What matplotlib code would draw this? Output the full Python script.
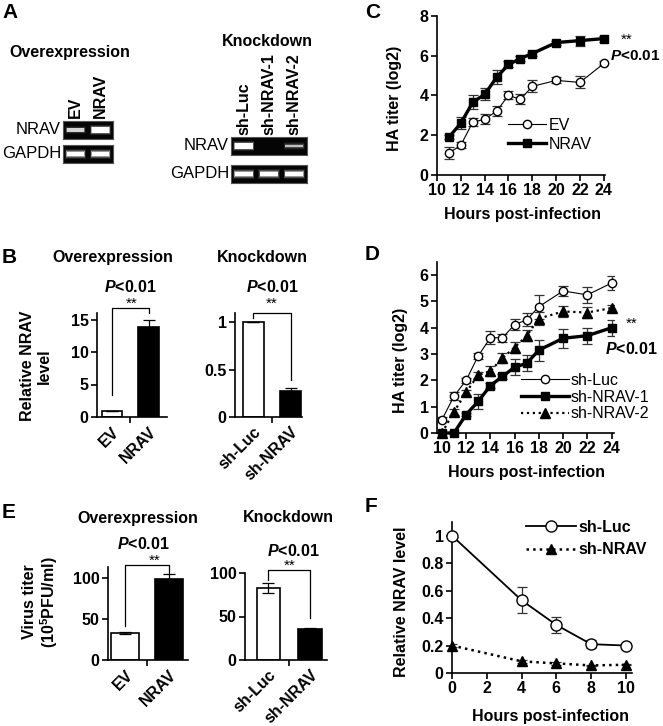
import matplotlib
matplotlib.use('Agg')
import matplotlib.pyplot as plt
import numpy as np

plt.rcParams['font.family'] = 'Liberation Sans'
plt.rcParams['font.weight'] = 'bold'
plt.rcParams['axes.labelweight'] = 'bold'
plt.rcParams['mathtext.fontset'] = 'custom'
plt.rcParams['mathtext.it'] = 'Liberation Sans:italic:bold'
plt.rcParams['mathtext.bf'] = 'Liberation Sans:bold'
plt.rcParams['mathtext.rm'] = 'Liberation Sans:bold'

W, H = 663, 726

# ---- data ----
# A: gel band intensities (0-1)
gel_oe_lanes = ['EV', 'NRAV']
gel_oe_nrav = [0.45, 1.0]
gel_oe_gapdh = [0.85, 0.85]
gel_kd_lanes = ['sh-Luc', 'sh-NRAV-1', 'sh-NRAV-2']
gel_kd_nrav = [0.9, 0.0, 0.35]
gel_kd_gapdh = [0.85, 0.85, 0.85]

# B: relative NRAV level
b_oe_labels = ['EV', 'NRAV']
b_oe_vals = [1.0, 13.9]
b_oe_err = [0.0, 1.05]
b_kd_labels = ['sh-Luc', 'sh-NRAV']
b_kd_vals = [1.0, 0.27]
b_kd_err = [0.0, 0.035]

# C: HA titer overexpression
c_hours = [11, 12, 13, 14, 15, 16, 17, 18, 20, 22, 24]
c_ev = [1.1, 1.5, 2.65, 2.8, 3.2, 4.0, 3.8, 4.45, 4.75, 4.65, 5.6]
c_ev_err = [0.3, 0.15, 0.2, 0.25, 0.25, 0.2, 0.25, 0.3, 0.15, 0.3, 0.1]
c_nrav = [1.9, 2.6, 3.65, 4.05, 4.9, 5.55, 5.85, 6.1, 6.65, 6.75, 6.85]
c_nrav_err = [0.1, 0.3, 0.35, 0.3, 0.35, 0.15, 0.15, 0.1, 0.1, 0.25, 0.15]

# D: HA titer knockdown
d_hours = [10, 11, 12, 13, 14, 15, 16, 17, 18, 20, 22, 24]
d_luc = [0.5, 1.4, 2.0, 2.93, 3.62, 3.62, 4.12, 4.3, 4.8, 5.4, 5.25, 5.7]
d_luc_err = [0.1, 0.15, 0.1, 0.1, 0.25, 0.15, 0.2, 0.25, 0.45, 0.2, 0.3, 0.25]
d_kd1 = [0, 0, 0.7, 1.2, 1.8, 2.15, 2.5, 2.65, 3.15, 3.6, 3.7, 4.0]
d_kd1_err = [0, 0, 0.05, 0.3, 0.1, 0.1, 0.3, 0.3, 0.4, 0.35, 0.3, 0.3]
d_kd2 = [0, 0.8, 1.55, 2.2, 2.35, 2.85, 3.25, 3.7, 4.35, 4.62, 4.58, 4.75]
d_kd2_err = [0, 0.1, 0.1, 0.1, 0.2, 0.2, 0.2, 0.2, 0.25, 0.2, 0.2, 0.1]

# E: virus titer
e_oe_labels = ['EV', 'NRAV']
e_oe_vals = [33, 98.5]
e_oe_err = [1.0, 6.0]
e_kd_labels = ['sh-Luc', 'sh-NRAV']
e_kd_vals = [83, 36]
e_kd_err = [5.5, 0.5]

# F: relative NRAV level over time
f_hours = [0, 4, 6, 8, 10]
f_luc = [1.0, 0.53, 0.35, 0.21, 0.2]
f_luc_err = [0.0, 0.095, 0.06, 0.03, 0.01]
f_kd = [0.2, 0.085, 0.07, 0.055, 0.06]
f_kd_err = [0.01, 0.01, 0.01, 0.005, 0.005]


fig = plt.figure(figsize=(W / 100, H / 100), dpi=100)


def box(x0, y0, x1, y1):
    return [x0 / W, 1 - y1 / H, (x1 - x0) / W, (y1 - y0) / H]


def ftxt(x, y, s, **kw):
    kw.setdefault('ha', 'center')
    kw.setdefault('va', 'center')
    fig.text(x / W, 1 - y / H, s, **kw)


def style(ax, size=11):
    for s in ['top', 'right']:
        ax.spines[s].set_visible(False)
    for s in ['left', 'bottom']:
        ax.spines[s].set_linewidth(1.2)
    ax.tick_params(direction='out', length=4, width=1.2, labelsize=size, pad=2)


# ================= A: gels =================
def gel(rect, vals):
    ax = fig.add_axes(box(*rect))
    ax.set_facecolor('#050505')
    ax.set_xlim(0, len(vals))
    ax.set_ylim(0, 1)
    ax.set_xticks([])
    ax.set_yticks([])
    for s in ax.spines.values():
        s.set_color('#555555')
        s.set_linewidth(0.8)
    for i, v in enumerate(vals):
        if v <= 0:
            continue
        core = 0.08 + 0.22 * v
        # soft glow, then bright core
        for grow, a in [(0.28, 0.12), (0.16, 0.25), (0.06, 0.5)]:
            h = core + grow
            ax.bar(i + 0.5, h, bottom=0.5 - h / 2, width=0.72 + grow * 0.4,
                   color='white', alpha=a * v, linewidth=0)
        ax.bar(i + 0.5, core, bottom=0.5 - core / 2, width=0.7, color='white',
               alpha=min(1, 0.3 + v), linewidth=0)
    return ax


gel((63, 121, 113, 139), gel_oe_nrav)
gel((63, 145, 113, 163), gel_oe_gapdh)
gel((231, 137, 307, 155), gel_kd_nrav)
gel((231, 165, 307, 183), gel_kd_gapdh)

ftxt(2, 13, 'A', ha='left', size=15)
ftxt(70, 52, 'Overexpression', size=11.5)
ftxt(267, 41, 'Knockdown', size=11.5)
ftxt(61, 130, 'NRAV', ha='right', size=12, weight='normal')
ftxt(61, 154, 'GAPDH', ha='right', size=12, weight='normal')
ftxt(229, 146, 'NRAV', ha='right', size=12, weight='normal')
ftxt(229, 174, 'GAPDH', ha='right', size=12, weight='normal')
for i, lab in enumerate(gel_oe_lanes):
    ftxt(63 + 25 * (i + 0.5), 118, lab, va='bottom', rotation=90, size=11.5)
for i, lab in enumerate(gel_kd_lanes):
    ftxt(231 + 25.3 * (i + 0.5), 135, lab, va='bottom', rotation=90, size=11.5)


# ================= bar panels =================
def bar_panel(rect, labels, vals, errs, xlim, ylim, yticks, ytl, width, brk):
    ax = fig.add_axes(box(*rect))
    x = np.arange(len(vals))
    ax.bar(x, vals, width=width, color=['white', 'black'], edgecolor='black',
           linewidth=1.2, zorder=2)
    ax.errorbar(x, vals, yerr=errs, fmt='none', ecolor='black', elinewidth=0.9,
                capsize=4, capthick=0.9, zorder=3)
    ax.set_xlim(*xlim)
    ax.set_ylim(*ylim)
    ax.set_yticks(yticks)
    ax.set_yticklabels(ytl)
    ax.set_xticks(x)
    ax.set_xticklabels(labels, rotation=45, ha='right', rotation_mode='anchor')
    ax.set_xticks([0.5], minor=True)
    style(ax, 11.5)
    ax.tick_params(axis='x', which='major', length=0, pad=5)
    ax.tick_params(axis='x', which='minor', direction='out', length=4, width=1.2)
    top, l0, r0 = brk
    ax.plot([0, 0, 1, 1], [l0, top, top, r0], color='black', lw=0.9,
            clip_on=False)
    return ax


bar_panel((97, 313, 167, 417), b_oe_labels, b_oe_vals, b_oe_err,
          (-0.4, 1.5), (0, 16), [0, 5, 10, 15], ['0', '5', '10', '15'], 0.55,
          (16.8, 3.4, 16.0))
bar_panel((235, 313, 302, 417), b_kd_labels, b_kd_vals, b_kd_err,
          (-0.49, 1.3), (0, 1.1), [0, 0.5, 1], ['0', '0.5', '1'], 0.55,
          (1.105, 1.05, 0.39))
ftxt(2, 258, 'B', ha='left', size=15)
ftxt(113, 258, 'Overexpression', size=11.5)
ftxt(262, 258, 'Knockdown', size=11.5)
ftxt(130, 287, '$\\mathit{P}$<0.01', size=11.5)
ftxt(272, 287, '$\\mathit{P}$<0.01', size=11.5)
ftxt(132, 304, '**', size=11, weight='normal')
ftxt(272, 304, '**', size=11, weight='normal')
ftxt(36, 366, 'Relative NRAV\nlevel', rotation=90, size=11.5, linespacing=1.1)

bar_panel((108, 567, 188, 660), e_oe_labels, e_oe_vals, e_oe_err,
          (-0.39, 1.43), (0, 113), [0, 50, 100], ['0', '50', '100'], 0.65,
          (115, 41, 106))
bar_panel((245, 573, 327, 660), e_kd_labels, e_kd_vals, e_kd_err,
          (-0.56, 1.41), (0, 100), [0, 50, 100], ['0', '50', '100'], 0.56,
          (103, 92, 48))
ftxt(2, 513, 'E', ha='left', size=15)
ftxt(138, 518, 'Overexpression', size=11.5)
ftxt(288, 518, 'Knockdown', size=11.5)
ftxt(143, 544, '$\\mathit{P}$<0.01', size=11.5)
ftxt(293, 551, '$\\mathit{P}$<0.01', size=11.5)
ftxt(155, 561, '**', size=11, weight='normal')
ftxt(290, 566, '**', size=11, weight='normal')
ftxt(41, 602, 'Virus titer\n(10$^{\\mathbf{5}}$PFU/ml)', rotation=90, size=11.5,
     linespacing=1.1)


# ================= line panels =================
def errline(ax, x, y, e, label, marker, mfc, lw, ls='-', ms=6):
    ax.errorbar(x, y, yerr=e, fmt='none', ecolor='#333333', elinewidth=0.9,
                capsize=3.5, capthick=0.9, zorder=2)
    return ax.plot(x, y, ls=ls, lw=lw, color='black', marker=marker, ms=ms,
                   mfc=mfc, mec='black', mew=1.0, label=label, zorder=3,
                   clip_on=False)[0]


# C
axc = fig.add_axes(box(437, 15.7, 605, 175))
h1 = errline(axc, c_hours, c_ev, c_ev_err, 'EV', 'o', 'white', 0.8)
h2 = errline(axc, c_hours, c_nrav, c_nrav_err, 'NRAV', 's', 'black', 2.4, ms=5.5)
axc.set_xlim(10, 24.1)
axc.set_ylim(0, 8)
axc.set_xticks(range(10, 25, 2))
axc.set_yticks([0, 2, 4, 6, 8])
style(axc, 11.5)
axc.legend(handles=[h1, h2], loc='upper left', bbox_to_anchor=(508 / W, 1 - 118 / H),
           bbox_transform=fig.transFigure, frameon=False, handlelength=2.4,
           handletextpad=0.15, labelspacing=0.25, borderpad=0, borderaxespad=0,
           prop=dict(size=11.5, weight='normal'))
ftxt(365, 12, 'C', ha='left', size=15)
ftxt(394, 98, 'HA titer (log2)', rotation=90, size=11.5)
ftxt(523, 215, 'Hours post-infection', size=11.5)
ftxt(627, 40, '**', size=11, weight='normal')
ftxt(610, 56, '$\\mathit{P}$<0.01', ha='left', size=11)

# D
axd = fig.add_axes(box(437, 262, 614, 433))
g1 = errline(axd, d_hours, d_luc, d_luc_err, 'sh-Luc', 'o', 'white', 0.8)
g2 = errline(axd, d_hours, d_kd1, d_kd1_err, 'sh-NRAV-1', 's', 'black', 2.4, ms=5.5)
g3 = errline(axd, d_hours, d_kd2, d_kd2_err, 'sh-NRAV-2', '^', 'black', 1.6, ls=':', ms=6.5)
axd.set_xlim(9.6, 24.2)
axd.set_ylim(0, 6.5)
axd.set_xticks(range(10, 25, 2))
axd.set_yticks(range(0, 7))
style(axd, 11.5)
axd.legend(handles=[g1, g2, g3], loc='upper left', bbox_to_anchor=(521 / W, 1 - 373 / H),
           bbox_transform=fig.transFigure, frameon=False, handlelength=3.0,
           handletextpad=0.1, labelspacing=0.1, borderpad=0, borderaxespad=0,
           prop=dict(size=11.5, weight='normal'))
ftxt(365, 254, 'D', ha='left', size=15)
ftxt(401, 360, 'HA titer (log2)', rotation=90, size=11.5)
ftxt(527, 472, 'Hours post-infection', size=11.5)
ftxt(632, 324, '**', size=11, weight='normal')
ftxt(605, 349, '$\\mathit{P}$<0.01', ha='left', size=11.5)

# F
axf = fig.add_axes(box(452, 522, 632, 673))
k1 = errline(axf, f_hours, f_luc, f_luc_err, 'sh-Luc', 'o', 'white', 1.3, ms=8)
k2 = errline(axf, f_hours, f_kd, f_kd_err, 'sh-NRAV', '^', 'black', 1.8, ls=':', ms=6.5)
axf.set_xlim(0, 10.35)
axf.set_ylim(0, 1.1)
axf.set_xticks(range(0, 11, 2))
axf.set_yticks([0, 0.2, 0.4, 0.6, 0.8, 1])
axf.set_yticklabels(['0', '0.2', '0.4', '0.6', '0.8', '1'])
style(axf, 11.5)
axf.legend(handles=[k1, k2], loc='upper left', bbox_to_anchor=(526 / W, 1 - 520 / H),
           bbox_transform=fig.transFigure, frameon=False, handlelength=3.1,
           handletextpad=0.2, labelspacing=0.45, borderpad=0, borderaxespad=0,
           prop=dict(size=11.5, weight='bold'))
ftxt(365, 507, 'F', ha='left', size=15)
ftxt(402, 602, 'Relative NRAV level', rotation=90, size=11.5)
ftxt(551, 717, 'Hours post-infection', size=11.5)

fig.savefig('out.png', dpi=100)
